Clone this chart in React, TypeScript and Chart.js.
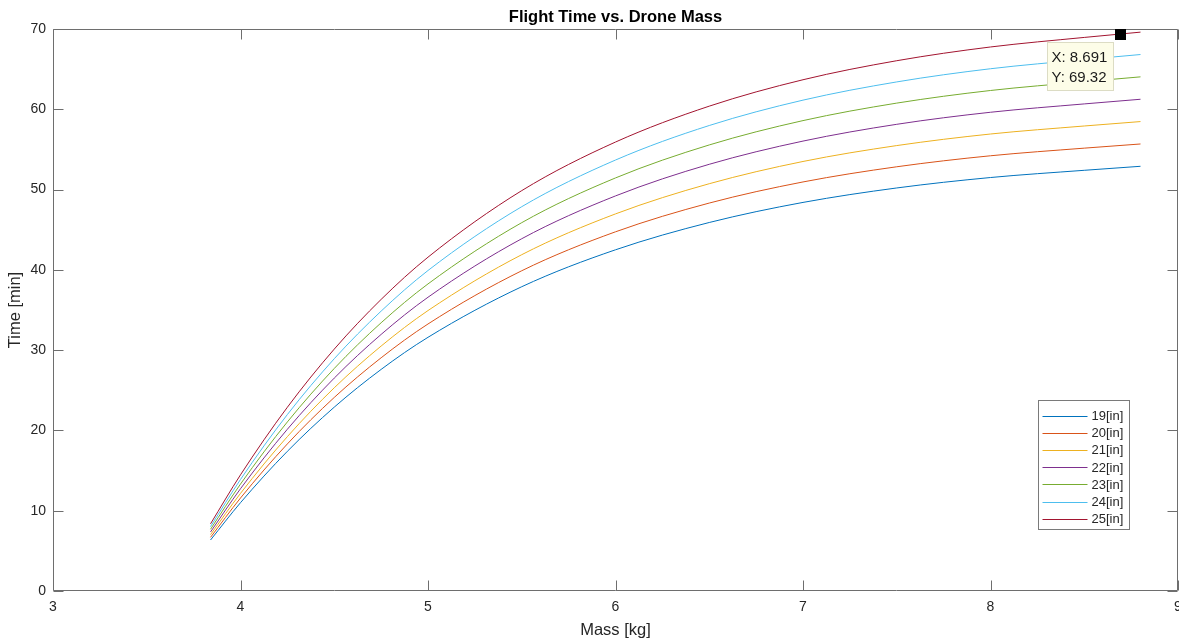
import React, { useEffect, useRef } from "react";
import { Chart, registerables } from "chart.js";

Chart.register(...registerables);

// ---- data ----
const massKg = [3.84, 4.0, 4.25, 4.5, 4.75, 5.0, 5.5, 6.0, 6.5, 7.0, 7.5, 8.0, 8.5, 8.8];

const time19 = [6.35, 11.0, 17.4, 22.9, 27.6, 31.6, 37.9, 42.5, 45.9, 48.4, 50.2, 51.5, 52.4, 52.9];
const time20 = [6.68, 11.58, 18.32, 24.11, 29.05, 33.26, 39.89, 44.74, 48.32, 50.95, 52.84, 54.21, 55.16, 55.68];
const time21 = [7.02, 12.16, 19.23, 25.31, 30.51, 34.93, 41.89, 46.97, 50.73, 53.5, 55.48, 56.92, 57.92, 58.47];
const time22 = [7.35, 12.74, 20.15, 26.52, 31.96, 36.59, 43.88, 49.21, 53.15, 56.04, 58.13, 59.63, 60.67, 61.25];
const time23 = [7.69, 13.32, 21.06, 27.72, 33.41, 38.25, 45.88, 51.45, 55.56, 58.59, 60.77, 62.34, 63.43, 64.04];
const time24 = [8.02, 13.89, 21.98, 28.93, 34.86, 39.92, 47.87, 53.68, 57.98, 61.14, 63.41, 65.05, 66.19, 66.82];
const time25 = [8.36, 14.47, 22.89, 30.13, 36.32, 41.58, 49.87, 55.92, 60.39, 63.68, 66.05, 67.76, 68.95, 69.61];

const seriesLabels = ["19[in]", "20[in]", "21[in]", "22[in]", "23[in]", "24[in]", "25[in]"];
const seriesColors = ["#0072BD", "#D95319", "#EDB120", "#7E2F8E", "#77AC30", "#4DBEEE", "#A2142F"];
const seriesValues = [time19, time20, time21, time22, time23, time24, time25];

const tipX = 8.691;
const tipY = 69.32;

const chartTitle = "Flight Time vs. Drone Mass";
const xTitle = "Mass [kg]";
const yTitle = "Time [min]";

const FONT = "'Liberation Sans', Arial, Helvetica, sans-serif";
const AXIS_COLOR = "#6e6e6e";
const TEXT_COLOR = "#262626";

const framePlugin = {
  id: "matlabFrame",
  afterDatasetsDraw(chart: any) {
    const { ctx, chartArea } = chart;
    const { left, right, top, bottom } = chartArea;
    const xs = chart.scales.x;
    const ys = chart.scales.y;
    const TL = 10;
    ctx.save();
    ctx.strokeStyle = AXIS_COLOR;
    ctx.lineWidth = 1;
    ctx.beginPath();
    const L = Math.round(left) + 0.5;
    const R = Math.round(right) - 0.5;
    const T = Math.round(top) + 0.5;
    const B = Math.round(bottom) - 0.5;
    ctx.moveTo(L, T);
    ctx.lineTo(R, T);
    ctx.lineTo(R, B);
    ctx.lineTo(L, B);
    ctx.closePath();
    xs.ticks.forEach((t: any) => {
      const px = Math.round(xs.getPixelForValue(t.value)) + 0.5;
      ctx.moveTo(px, B);
      ctx.lineTo(px, B - TL);
      ctx.moveTo(px, T);
      ctx.lineTo(px, T + TL);
    });
    ys.ticks.forEach((t: any) => {
      const py = Math.round(ys.getPixelForValue(t.value)) + 0.5;
      ctx.moveTo(L, py);
      ctx.lineTo(L + TL, py);
      ctx.moveTo(R, py);
      ctx.lineTo(R - TL, py);
    });
    ctx.stroke();

    // title centred over the axes
    ctx.fillStyle = "#000000";
    ctx.font = `bold 16.5px ${FONT}`;
    ctx.textAlign = "center";
    ctx.textBaseline = "middle";
    ctx.fillText(chartTitle, (left + right) / 2, 17);

    // legend
    const lw = 91;
    const lh = 129;
    const lx = Math.round(right) - 140 + 0.5;
    const ly = Math.round(top) + 371 + 0.5;
    ctx.fillStyle = "#ffffff";
    ctx.fillRect(lx, ly, lw, lh);
    ctx.strokeStyle = "#7a7a7a";
    ctx.strokeRect(lx, ly, lw, lh);
    ctx.font = `13px ${FONT}`;
    ctx.textBaseline = "middle";
    ctx.textAlign = "left";
    chart.data.datasets.forEach((ds: any, i: number) => {
      const ry = ly + 15 + i * 17.2;
      ctx.strokeStyle = ds.borderColor;
      ctx.lineWidth = 1;
      ctx.beginPath();
      ctx.moveTo(lx + 4, Math.round(ry) + 0.5);
      ctx.lineTo(lx + 49, Math.round(ry) + 0.5);
      ctx.stroke();
      ctx.fillStyle = TEXT_COLOR;
      ctx.fillText(ds.label, lx + 53, ry + 1);
    });

    // datatip marker + box
    const mx = xs.getPixelForValue(tipX);
    const my = ys.getPixelForValue(tipY);
    ctx.fillStyle = "#000000";
    ctx.fillRect(Math.round(mx - 5.5), Math.round(my - 5.5), 11, 11);
    const bx = Math.round(mx - 73) + 0.5;
    const by = Math.round(my + 8) + 0.5;
    ctx.fillStyle = "#fdfde8";
    ctx.fillRect(bx, by, 66, 48);
    ctx.strokeStyle = "#dcdcc4";
    ctx.strokeRect(bx, by, 66, 48);
    ctx.fillStyle = "#1a1a1a";
    ctx.font = `15px ${FONT}`;
    ctx.fillText(`X: ${tipX.toFixed(3)}`, bx + 4, by + 15);
    ctx.fillText(`Y: ${tipY.toFixed(2)}`, bx + 4, by + 35);
    ctx.restore();
  },
};

export default function App() {
  const canvasRef = useRef<HTMLCanvasElement | null>(null);

  useEffect(() => {
    const canvas = canvasRef.current;
    if (!canvas) return;
    Chart.defaults.font.family = FONT;

    const datasets: any[] = seriesValues.map((vals, i) => ({
      label: seriesLabels[i],
      data: massKg.map((m, j) => ({ x: m, y: vals[j] })),
      borderColor: seriesColors[i],
      backgroundColor: seriesColors[i],
      borderWidth: 1,
      pointRadius: 0,
      pointHoverRadius: 0,
      pointHitRadius: 0,
      fill: false,
      cubicInterpolationMode: "monotone",
    }));

    const chart = new Chart(canvas, {
      type: "line",
      data: { datasets },
      options: {
        responsive: false,
        animation: false,
        devicePixelRatio: 1,
        events: [],
        layout: { padding: { left: 0, right: 1, top: 29, bottom: 0 } },
        plugins: {
          legend: { display: false },
          tooltip: { enabled: false },
          title: { display: false },
        },
        scales: {
          x: {
            type: "linear",
            min: 3,
            max: 9,
            grid: { display: false, drawTicks: false },
            border: { display: false },
            ticks: {
              stepSize: 1,
              color: TEXT_COLOR,
              font: { size: 14, family: FONT },
              padding: 8,
              maxRotation: 0,
              autoSkip: false,
            },
            title: {
              display: true,
              text: xTitle,
              color: TEXT_COLOR,
              font: { size: 16.5, family: FONT },
              padding: { top: 0, bottom: 1 },
            },
            afterFit: (s: any) => {
              s.height = 50;
              s.paddingLeft = 0;
              s.paddingRight = 0;
            },
          },
          y: {
            type: "linear",
            min: 0,
            max: 70,
            grid: { display: false, drawTicks: false },
            border: { display: false },
            ticks: {
              stepSize: 10,
              color: TEXT_COLOR,
              font: { size: 14, family: FONT },
              padding: 7,
            },
            title: {
              display: true,
              text: yTitle,
              color: TEXT_COLOR,
              font: { size: 16.5, family: FONT },
              padding: { top: 6, bottom: 0 },
            },
            afterFit: (s: any) => {
              s.width = 53;
              s.paddingTop = 0;
              s.paddingBottom = 0;
            },
          },
        },
      } as any,
      plugins: [framePlugin],
    });

    return () => chart.destroy();
  }, []);

  return (
    <div style={{ position: "fixed", left: 0, top: 0, width: 1179, height: 641, background: "#ffffff" }}>
      <canvas ref={canvasRef} width={1179} height={641} style={{ display: "block", width: 1179, height: 641 }} />
    </div>
  );
}
